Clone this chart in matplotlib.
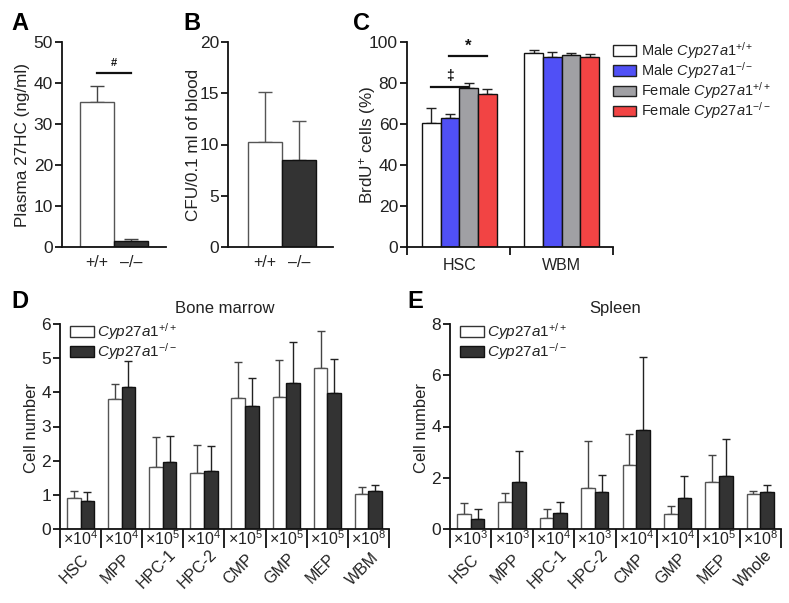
import matplotlib
matplotlib.use('Agg')
import matplotlib.pyplot as plt
import matplotlib.transforms as mtransforms
from matplotlib.patches import Patch
import numpy as np

plt.rcParams['font.family'] = ['Liberation Sans', 'DejaVu Sans']
plt.rcParams['mathtext.fontset'] = 'custom'
plt.rcParams['mathtext.rm'] = 'Liberation Sans'
plt.rcParams['mathtext.it'] = 'Liberation Sans:italic'
plt.rcParams['mathtext.bf'] = 'Liberation Sans:bold'

# ---- data ----
# A: plasma 27HC
a_labels = ['+/+', '\u2013/\u2013']
a_mean = [35.3, 1.4]
a_err = [4.0, 0.6]

# B: CFU per 0.1 ml blood
b_labels = ['+/+', '\u2013/\u2013']
b_mean = [10.2, 8.5]
b_err = [4.9, 3.8]

# C: BrdU+ cells (%)
c_groups = ['HSC', 'WBM']
c_male_wt = [60.5, 94.5]
c_male_wt_err = [7.5, 1.8]
c_male_ko = [63.0, 92.5]
c_male_ko_err = [2.0, 2.5]
c_fem_wt = [77.5, 93.8]
c_fem_wt_err = [2.5, 0.7]
c_fem_ko = [74.8, 92.7]
c_fem_ko_err = [2.2, 1.6]

# D: bone marrow cell number
d_cells = ['HSC', 'MPP', 'HPC-1', 'HPC-2', 'CMP', 'GMP', 'MEP', 'WBM']
d_scale = ['4', '4', '5', '4', '5', '5', '5', '8']
d_wt = [0.9, 3.8, 1.82, 1.65, 3.82, 3.85, 4.72, 1.03]
d_wt_err = [0.2, 0.45, 0.88, 0.82, 1.06, 1.1, 1.08, 0.19]
d_ko = [0.82, 4.17, 1.97, 1.7, 3.6, 4.26, 3.97, 1.1]
d_ko_err = [0.25, 0.76, 0.74, 0.73, 0.83, 1.22, 1.02, 0.18]

# E: spleen cell number
e_cells = ['HSC', 'MPP', 'HPC-1', 'HPC-2', 'CMP', 'GMP', 'MEP', 'Whole']
e_scale = ['3', '3', '4', '3', '4', '4', '5', '8']
e_wt = [0.6, 1.07, 0.42, 1.6, 2.48, 0.57, 1.82, 1.37]
e_wt_err = [0.42, 0.35, 0.38, 1.82, 1.24, 0.31, 1.05, 0.13]
e_ko = [0.4, 1.82, 0.62, 1.43, 3.87, 1.2, 2.08, 1.43]
e_ko_err = [0.4, 1.22, 0.43, 0.67, 2.85, 0.88, 1.45, 0.27]

WT = r'$\it{Cyp27a1}^{+/+}$'
KO = r'$\it{Cyp27a1}^{-/-}$'

TXT = '#222222'
DARK = '#333333'
BLUE = '#5050f6'
GREY = '#a0a0a4'
RED = '#f24444'
FS_TICK = 12.5
FS = 11.5

W, H = 789, 603
fig = plt.figure(figsize=(W / 100, H / 100), dpi=100)


def axes_px(x0, y0, x1, y1):
    return fig.add_axes([x0 / W, 1 - y1 / H, (x1 - x0) / W, (y1 - y0) / H])


def style(ax):
    for s in ['top', 'right']:
        ax.spines[s].set_visible(False)
    for s in ['left', 'bottom']:
        ax.spines[s].set_linewidth(1.3)
        ax.spines[s].set_color('#111111')
    ax.tick_params(axis='y', direction='out', length=5, width=1.3,
                   labelsize=FS_TICK, labelcolor=TXT, color='#111111', pad=1.5)


def bars(ax, x, means, errs, width, face, edge, ecolor, capsize):
    ax.bar(x, means, width, color=face, edgecolor=edge, linewidth=1, zorder=2)
    ax.errorbar(x, means, yerr=[np.zeros(len(errs)), errs], fmt='none',
                ecolor=ecolor, elinewidth=1, capsize=capsize, capthick=1, zorder=1)


def ylab(x, y, s, fs=12):
    fig.text(x / W, 1 - y / H, s, rotation=90, ha='center', va='center',
             fontsize=fs, color=TXT)


def letter(x, y, s):
    fig.text(x / W, 1 - y / H, s, ha='center', va='center',
             fontsize=17, fontweight='bold', color='black')


# ---- A ----
axA = axes_px(62, 42, 166, 247)
style(axA)
xa = np.arange(len(a_mean))
bars(axA, xa, a_mean, a_err, 1.0, ['white', DARK], ['#555555', '#111111'],
     '#444444', 5)
axA.set_xlim(-1.03, 2.03)
axA.set_ylim(0, 50)
axA.set_yticks([0, 10, 20, 30, 40, 50])
axA.set_xticks(xa)
axA.set_xticklabels(a_labels)
axA.tick_params(axis='x', length=0, labelsize=FS, labelcolor=TXT, pad=6)
axA.plot([0, 1], [42.4, 42.4], color='#111111', lw=1.6, clip_on=False)
axA.text(0.5, 43.6, '#', ha='center', va='bottom', fontsize=8,
         fontweight='bold', color='#111111')
ylab(23, 145, 'Plasma 27HC (ng/ml)', 12.3)
letter(20, 24, 'A')

# ---- B ----
axB = axes_px(228, 42, 333, 247)
style(axB)
xb = np.arange(len(b_mean))
bars(axB, xb, b_mean, b_err, 1.0, ['white', DARK], ['#555555', '#111111'],
     '#555555', 5)
axB.set_xlim(-1.09, 2.0)
axB.set_ylim(0, 20)
axB.set_yticks([0, 5, 10, 15, 20])
axB.set_xticks(xb)
axB.set_xticklabels(b_labels)
axB.tick_params(axis='x', length=0, labelsize=FS, labelcolor=TXT, pad=6)
ylab(193, 145, 'CFU/0.1 ml of blood', 12.3)
letter(192, 24, 'B')

# ---- C ----
axC = axes_px(407, 42, 613, 247)
style(axC)
centers = np.array([0.0, 5.5])
c_series = [
    (c_male_wt, c_male_wt_err, 'white', 'Male ' + WT),
    (c_male_ko, c_male_ko_err, BLUE, 'Male ' + KO),
    (c_fem_wt, c_fem_wt_err, GREY, 'Female ' + WT),
    (c_fem_ko, c_fem_ko_err, RED, 'Female ' + KO),
]
handles = []
for i, (m, e, col, lab) in enumerate(c_series):
    x = centers + (i - 1.5)
    bars(axC, x, m, e, 1.0, col, '#111111', '#222222', 3.5)
    handles.append(Patch(facecolor=col, edgecolor='#222222', linewidth=1, label=lab))
lo, hi = -2.81, 8.26
axC.set_xlim(lo, hi)
axC.set_ylim(0, 100)
axC.set_yticks([0, 20, 40, 60, 80, 100])
axC.set_xticks([lo, 2.75, hi])
axC.set_xticklabels([])
axC.set_xticks(centers, minor=True)
axC.set_xticklabels(c_groups, minor=True)
axC.tick_params(axis='x', which='major', direction='out', length=6, width=1.3,
                color='#111111')
axC.tick_params(axis='x', which='minor', length=0, labelsize=FS,
                labelcolor=TXT, pad=8)
axC.plot([-1.5, 0.45], [78, 78], color='#111111', lw=1.6, clip_on=False)
axC.text(-0.5, 80, '\u2021', ha='center', va='bottom', fontsize=10,
         fontweight='bold', color='#111111')
axC.plot([-0.55, 1.5], [93, 93], color='#111111', lw=1.6, clip_on=False)
axC.text(0.5, 94.5, '*', ha='center', va='bottom', fontsize=12,
         fontweight='bold', color='#111111')
ylab(367, 145, 'BrdU$^{+}$ cells (%)', 12.3)
letter(361, 24, 'C')
axC.legend(handles=handles, loc='upper left', bbox_to_anchor=(613 / W, 1 - 40 / H),
           bbox_transform=fig.transFigure, frameon=False, fontsize=10.5,
           handlelength=1.55, handleheight=0.75, handletextpad=0.4,
           labelspacing=-0.05, borderpad=0, borderaxespad=0, labelcolor=TXT)


# ---- D and E ----
def cell_panel(ax, cells, scale, wt, wt_err, ko, ko_err, ymax, step, title):
    style(ax)
    n = len(cells)
    x = np.arange(n)
    bw = 0.33
    bars(ax, x - bw / 2, wt, wt_err, bw, 'white', '#555555', '#444444', 3)
    bars(ax, x + bw / 2, ko, ko_err, bw, DARK, '#111111', '#222222', 3)
    ax.set_xlim(-0.5, n - 0.5)
    ax.set_ylim(0, ymax)
    ax.set_yticks(np.arange(0, ymax + 0.1, step))
    ax.set_xticks(np.arange(n + 1) - 0.5)
    ax.set_xticklabels([])
    ax.tick_params(axis='x', direction='out', length=13.5, width=1.3,
                   color='#111111')
    tr = mtransforms.blended_transform_factory(ax.transData, ax.transAxes)
    dy = 1.0 / (529 - 324)
    for i in range(n):
        ax.text(i, -10 * dy, '\u00d710$^{%s}$' % scale[i], transform=tr,
                ha='center', va='center', fontsize=11.5, color=TXT)
        ax.text(i - 0.15, -40 * dy, cells[i], transform=tr, rotation=45,
                ha='center', va='center', rotation_mode='anchor',
                fontsize=11.5, color=TXT)
    ax.set_title(title, fontsize=12, color=TXT, pad=8)
    wt_h = Patch(facecolor='white', edgecolor='#333333', linewidth=1)
    ko_h = Patch(facecolor=DARK, edgecolor='#111111', linewidth=1)
    ax.legend([wt_h, ko_h], [WT, KO], loc='upper left',
              bbox_to_anchor=(0.03, 1.015), frameon=False, fontsize=11,
              handlelength=1.55, handleheight=0.75, handletextpad=0.25,
              labelspacing=-0.05, borderpad=0, borderaxespad=0, labelcolor=TXT)


axD = axes_px(60, 324, 389, 529)
cell_panel(axD, d_cells, d_scale, d_wt, d_wt_err, d_ko, d_ko_err, 6, 1,
           'Bone marrow')
ylab(32, 428, 'Cell number')
letter(20, 301, 'D')

axE = axes_px(450, 324, 781, 529)
cell_panel(axE, e_cells, e_scale, e_wt, e_wt_err, e_ko, e_ko_err, 8, 2,
           'Spleen')
ylab(421, 428, 'Cell number')
letter(415, 301, 'E')

fig.savefig('out.png', dpi=100)
